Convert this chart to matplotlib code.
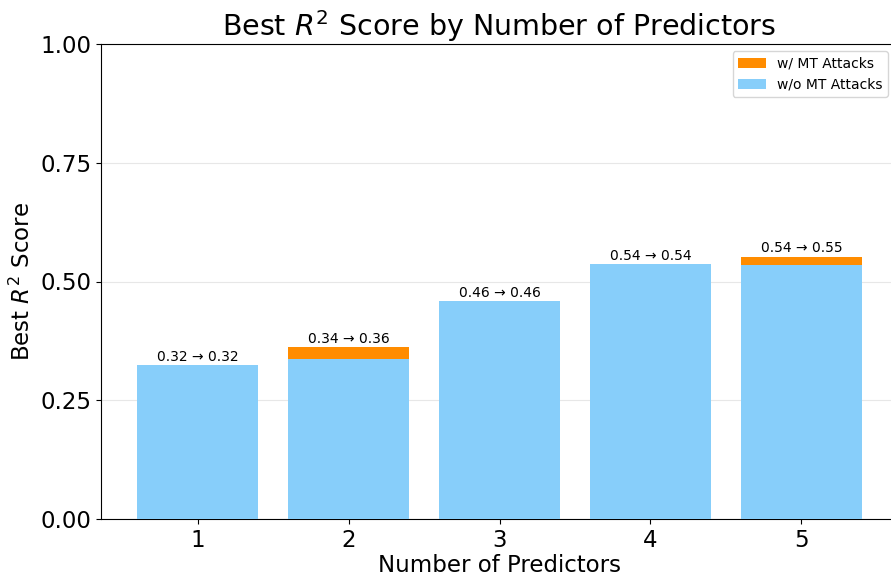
import matplotlib
matplotlib.use("Agg")

import matplotlib.pyplot as plt

# =========================================================
# DATA
# =========================================================

n_predictors = [1, 2, 3, 4, 5]
r2_without   = [0.324, 0.337, 0.459, 0.537, 0.535]
r2_with      = [0.324, 0.362, 0.459, 0.537, 0.552]

# =========================================================
# FIGURE
# =========================================================

fig = plt.figure(figsize=(8.91, 5.79), dpi=100)
ax = fig.add_axes([101 / 891, 60 / 579, 797 / 891, 475 / 579])

ax.bar(n_predictors, r2_with, width=0.8, color="#FF8C00",
       label="w/ MT Attacks", zorder=2)
ax.bar(n_predictors, r2_without, width=0.8, color="#87CEFA",
       label="w/o MT Attacks", zorder=3)

# Value labels above each bar
for x, lo, hi in zip(n_predictors, r2_without, r2_with):
    ax.text(x, max(lo, hi) + 0.003, f"{lo:.2f} \u2192 {hi:.2f}",
            ha="center", va="bottom", fontsize=10, zorder=4)

# =========================================================
# AXIS FORMATTING
# =========================================================

ax.set_xlim(0.36, 5.64)
ax.set_ylim(0, 1.0)
ax.set_xticks(n_predictors)
ax.set_yticks([0.0, 0.25, 0.5, 0.75, 1.0])
ax.yaxis.set_major_formatter(plt.FormatStrFormatter("%.2f"))
ax.tick_params(axis="both", labelsize=16.5)
ax.tick_params(axis="x", pad=4)
ax.grid(True, axis="y", color="#dddddd", alpha=0.7, zorder=0)
ax.set_axisbelow(True)

ax.set_xlabel("Number of Predictors", fontsize=16.5, labelpad=1.5)
ax.set_ylabel("Best $R^2$ Score", fontsize=16.5)
ax.set_title("Best $R^2$ Score by Number of Predictors", fontsize=20.5)

ax.legend(loc="upper right", bbox_to_anchor=(888 / 891, 1 - 51 / 579),
          bbox_transform=fig.transFigure, fontsize=10, borderaxespad=0)

fig.savefig("out.png", dpi=100)
